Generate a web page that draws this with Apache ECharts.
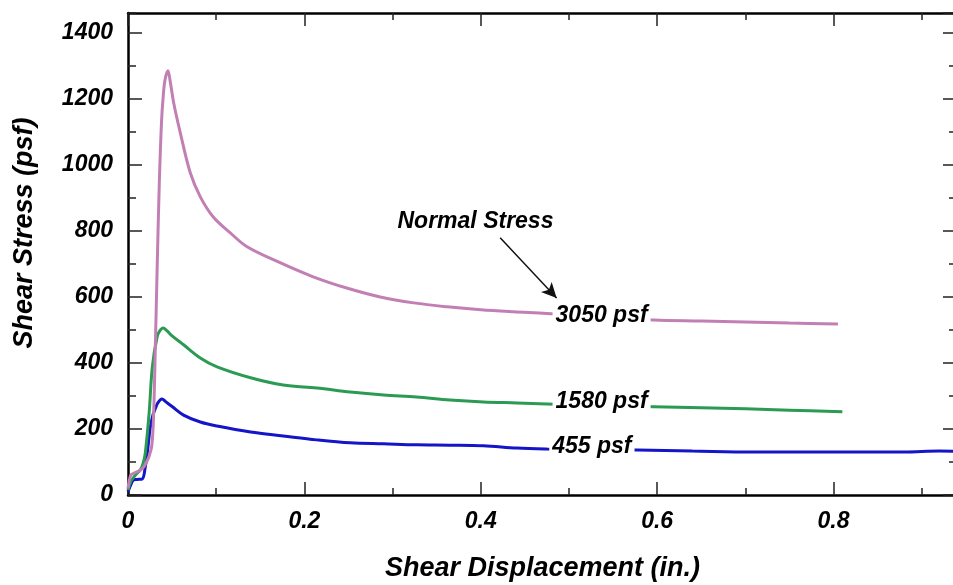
<!DOCTYPE html>
<html>
<head>
<meta charset="utf-8">
<script src="https://cdn.jsdelivr.net/npm/echarts@6/dist/echarts.min.js"></script>
<style>
  html, body { margin: 0; padding: 0; background: #fff; }
  #chart { width: 953px; height: 585px; }
</style>
</head>
<body>
<div id="chart"></div>
<script>
// Shear stress vs. shear displacement, three normal stresses

var disp455 = [0, 0.003, 0.006, 0.010, 0.016, 0.0196, 0.022, 0.025, 0.028, 0.031, 0.034, 0.0385, 0.043, 0.050, 0.063, 0.082, 0.101, 0.139, 0.176, 0.214, 0.252, 0.290, 0.327, 0.365, 0.403, 0.441, 0.475, 0.520, 0.578, 0.640, 0.709, 0.770, 0.822, 0.880, 0.920, 0.940];
var stress455 = [10, 30, 45, 47, 48, 85, 130, 200, 240, 262, 280, 291, 282, 268, 242, 221, 209, 191, 179, 167, 158, 155, 152, 151, 149, 142, 139, 137, 136, 133, 130, 130, 130, 130, 133, 132];

var disp1580 = [0, 0.003, 0.006, 0.010, 0.014, 0.017, 0.0196, 0.024, 0.0276, 0.033, 0.036, 0.0397, 0.044, 0.050, 0.063, 0.082, 0.101, 0.139, 0.176, 0.214, 0.252, 0.290, 0.327, 0.365, 0.403, 0.441, 0.475, 0.530, 0.596, 0.650, 0.700, 0.750, 0.810];
var stress1580 = [15, 40, 52, 65, 76, 95, 127, 250, 388, 479, 497, 506, 498, 482, 455, 415, 388, 355, 333, 324, 312, 303, 297, 288, 282, 279, 276, 271, 267, 264, 261, 257, 252];

var disp3050 = [0, 0.003, 0.006, 0.010, 0.014, 0.018, 0.021, 0.024, 0.027, 0.029, 0.031, 0.033, 0.0355, 0.038, 0.040, 0.042, 0.0453, 0.048, 0.052, 0.0593, 0.0706, 0.082, 0.0967, 0.116, 0.135, 0.173, 0.210, 0.248, 0.286, 0.324, 0.362, 0.400, 0.437, 0.475, 0.530, 0.596, 0.650, 0.700, 0.750, 0.805];
var stress3050 = [20, 60, 65, 70, 75, 85, 100, 118, 150, 240, 450, 680, 945, 1130, 1210, 1258, 1285, 1250, 1185, 1097, 976, 903, 842, 794, 752, 703, 661, 627, 600, 582, 570, 561, 555, 550, 540, 530, 527, 524, 521, 518];

var seriesNames = ['3050 psf', '1580 psf', '455 psf'];
var seriesColors = ['#c27fb4', '#2b9a52', '#1414c8'];
var labelPos = [[0.537, 542], [0.537, 282], [0.526, 146]];

var noteText = 'Normal Stress';
var notePos = [0.394, 827];
var arrowFrom = [0.422, 779];
var arrowTo = [0.486, 597];

var xMax = 0.94, yMax = 1460;

function zip(xs, ys) {
    return xs.map(function(x, i) { return [x, ys[i]]; });
}

var fontFamily = '"Liberation Sans", Arial, sans-serif';
var textStyle = { fontFamily: fontFamily, fontWeight: 'bold', fontStyle: 'italic', color: '#000' };

function frameAxis(pos, interval, len, extra) {
    var isX = pos === 'top' || pos === 'bottom';
    return Object.assign({
        type: 'value',
        position: pos,
        min: 0,
        max: isX ? xMax : yMax,
        interval: interval,
        axisLine: { show: true, onZero: false, lineStyle: { color: '#000', width: 2.5 } },
        axisTick: { show: true, inside: true, length: len, lineStyle: { color: '#222', width: 1.5 } },
        axisLabel: { show: false },
        splitLine: { show: false }
    }, extra || {});
}

var chart = echarts.init(document.getElementById('chart'));

var lineData = [zip(disp3050, stress3050), zip(disp1580, stress1580), zip(disp455, stress455)];

var series = lineData.map(function(d, i) {
    return {
        name: seriesNames[i],
        type: 'line',
        data: d,
        showSymbol: false,
        smooth: 0.35,
        z: 3 - i,
        lineStyle: { color: seriesColors[i], width: 3 },
        itemStyle: { color: seriesColors[i] },
        markPoint: {
            symbol: 'rect',
            symbolSize: 1,
            itemStyle: { color: 'transparent' },
            label: Object.assign({
                show: true,
                position: 'inside',
                fontSize: 23,
                backgroundColor: '#fff',
                padding: [0, 3],
                formatter: seriesNames[i]
            }, textStyle),
            data: [{ coord: labelPos[i] }]
        },
        animation: false
    };
});

// annotation text and arrow ride on the top series
series[0].markPoint.data.push({
    coord: notePos,
    label: Object.assign({ show: true, fontSize: 23, backgroundColor: 'transparent', formatter: noteText }, textStyle)
});
series[0].markLine = {
    silent: true,
    symbol: ['none', 'arrow'],
    symbolSize: [11, 15],
    lineStyle: { color: '#111', width: 1.5, type: 'solid' },
    label: { show: false },
    data: [[{ coord: arrowFrom }, { coord: arrowTo }]],
    animation: false
};

chart.setOption({
    backgroundColor: '#fff',
    animation: false,
    grid: { left: 128, top: 13, width: 829, height: 482, outerBoundsMode: 'none', containLabel: false },
    xAxis: [
        frameAxis('bottom', 0.2, 13, {
            name: 'Shear Displacement (in.)',
            nameLocation: 'middle',
            nameGap: 60,
            nameTextStyle: Object.assign({ fontSize: 27 }, textStyle),
            axisLabel: Object.assign({ show: true, fontSize: 23, margin: 15, showMaxLabel: false }, textStyle)
        }),
        frameAxis('bottom', 0.1, 7, { axisLine: { show: false, onZero: false } }),
        frameAxis('top', 0.2, 13),
        frameAxis('top', 0.1, 7, { axisLine: { show: false, onZero: false } })
    ],
    yAxis: [
        frameAxis('left', 200, 14, {
            name: 'Shear Stress (psf)',
            nameLocation: 'middle',
            nameGap: 90,
            nameTextStyle: Object.assign({ fontSize: 27, padding: [0, 0, 0, 42] }, textStyle),
            axisLabel: Object.assign({
                show: true, fontSize: 23, margin: 15, showMaxLabel: false,
                formatter: function(v) { return String(v); }
            }, textStyle)
        }),
        frameAxis('left', 100, 8, { axisLine: { show: false, onZero: false } }),
        frameAxis('right', 200, 14),
        frameAxis('right', 100, 8, { axisLine: { show: false, onZero: false } })
    ],
    series: series
});
</script>
</body>
</html>
